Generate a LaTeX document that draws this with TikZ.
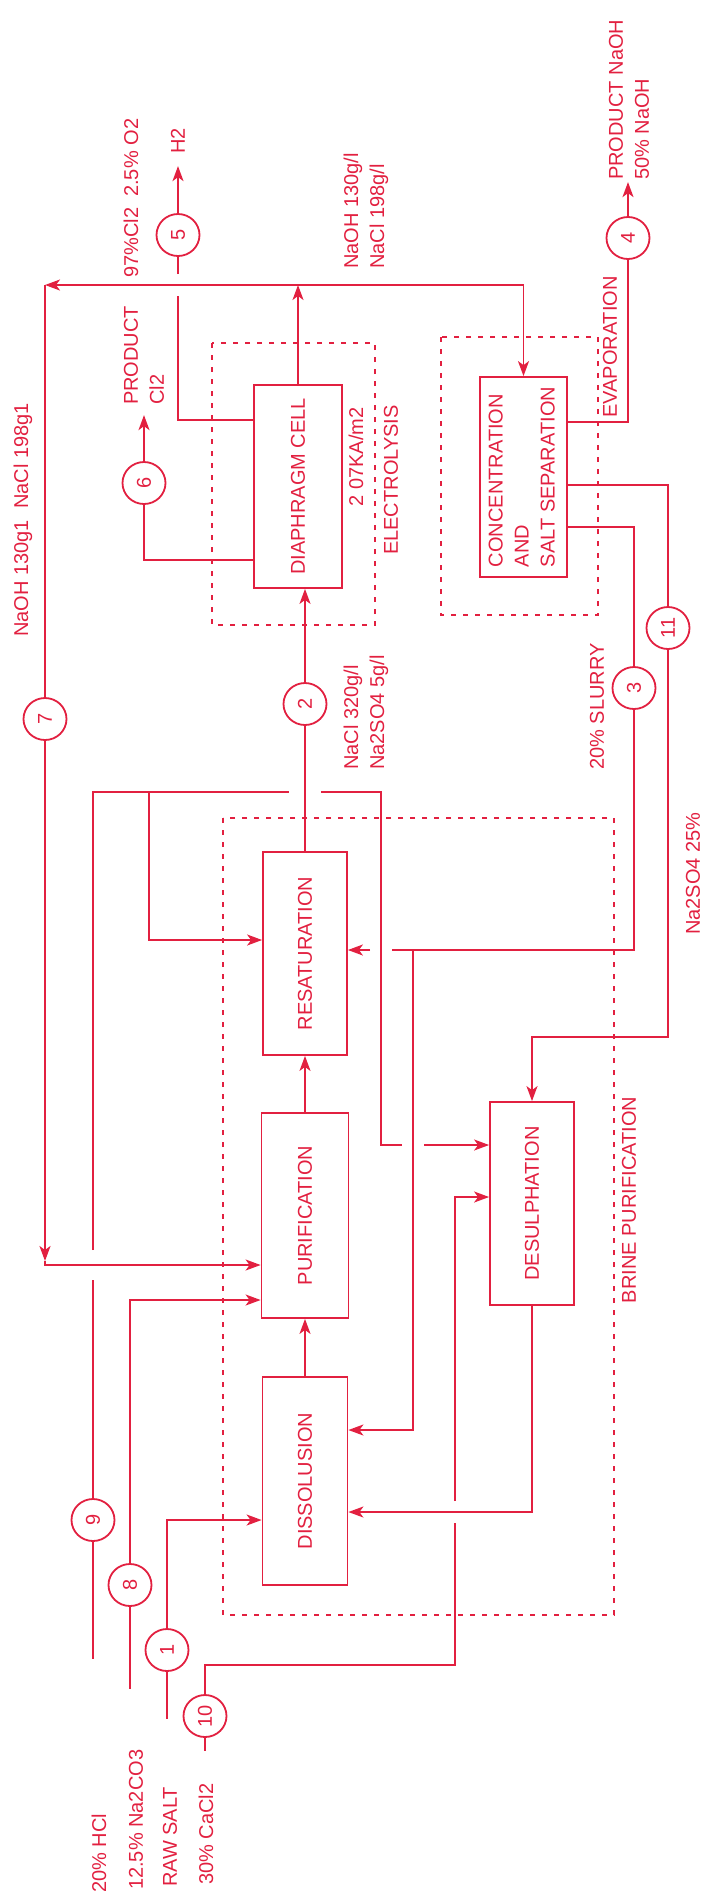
\documentclass[tikz,border=0pt]{standalone}
\usepackage{fontspec}
\setmainfont{Liberation Sans}
\usepackage{tikz}
\usetikzlibrary{arrows.meta,positioning,shapes.geometric}
\definecolor{flowred}{RGB}{226,32,64}
\newcommand{\diagfont}{\fontsize{20}{26}\selectfont}

\tikzset{
  flow/.style={draw=flowred,line width=1.8pt},
  flowarrow/.style={flow,-{Stealth[length=15pt,width=11pt,inset=4pt]}},
  unitbox/.style={draw=flowred,line width=1.8pt,inner sep=1pt,text=flowred,font=\diagfont},
  streamno/.style={ellipse,draw=flowred,line width=1.8pt,minimum width=43pt,minimum height=42pt,
    inner sep=0pt,text=flowred,font=\diagfont},
  regionbox/.style={draw=flowred,line width=1.8pt,dash pattern=on 5pt off 7pt},
  flowlabel/.style={rotate=90,text=flowred,font=\diagfont,align=left,inner sep=0pt},
}

\begin{document}
\begin{tikzpicture}[x=1pt,y=-1pt]
  \useasboundingbox (0,0) rectangle (712,1899);

  % process units
  \node[unitbox,minimum width=88pt,minimum height=203pt] (cell) at (298,486.5) {\rotatebox{90}{DIAPHRAGM CELL}};
  \node[unitbox,minimum width=87pt,minimum height=200pt] (conc) at (523.5,477)
    {\rotatebox{90}{\begin{tabular}{@{}l@{}}CONCENTRATION\\AND\\SALT SEPARATION\end{tabular}}};
  \node[unitbox,minimum width=84pt,minimum height=203pt] (resat) at (305,953.5) {\rotatebox{90}{RESATURATION}};
  \node[unitbox,minimum width=87pt,minimum height=205pt] (purif) at (305,1215.5) {\rotatebox{90}{PURIFICATION}};
  \node[unitbox,minimum width=84pt,minimum height=203pt] (desul) at (532,1203.5) {\rotatebox{90}{DESULPHATION}};
  \node[unitbox,minimum width=85pt,minimum height=208pt] (dissol) at (305,1481) {\rotatebox{90}{DISSOLUSION}};

  % stream numbers
  \node[streamno] (c5) at (178,235) {\rotatebox{90}{5}};
  \node[streamno] (c6) at (144,483) {\rotatebox{90}{6}};
  \node[streamno] (c4) at (628,238) {\rotatebox{90}{4}};
  \node[streamno] (c7) at (45,719) {\rotatebox{90}{7}};
  \node[streamno] (c2) at (305,704) {\rotatebox{90}{2}};
  \node[streamno] (c3) at (634,688) {\rotatebox{90}{3}};
  \node[streamno] (c11) at (668,628) {\rotatebox{90}{11}};
  \node[streamno] (c9) at (93,1520) {\rotatebox{90}{9}};
  \node[streamno] (c8) at (130,1585) {\rotatebox{90}{8}};
  \node[streamno] (c1) at (167,1650) {\rotatebox{90}{1}};
  \node[streamno] (c10) at (205,1716) {\rotatebox{90}{10}};

  % dashed sections
  \draw[regionbox] (212,343) rectangle (375,625);
  \draw[regionbox] (441,337) rectangle (598,615);
  \draw[regionbox] (223,818) rectangle (614,1615);
  \node[flowlabel] (lblKA) at (356,457) {2 07KA/m2};
  \node[flowlabel] (lblEl) at (391,480) {ELECTROLYSIS};
  \node[flowlabel] (lblBP) at (629,1200) {BRINE PURIFICATION};

  % cell liquor header and recycle 7
  \coordinate (tl) at (45,285);
  \coordinate (tr) at (conc.north |- tl);
  \draw[flowarrow] (tr) -- (tl);
  \draw[flowarrow] (cell.north) -- (cell.north |- tl);
  \draw[flowarrow] (tr) -- (conc.north);
  \draw[flow] (tl) -- (c7.north);
  \coordinate (k7) at (45,1265);
  \draw[flowarrow] (c7.south) -- ([yshift=4pt]k7);
  \draw[flowarrow] ([yshift=4pt]k7) -- (k7) -- (purif.west |- k7);
  \node[flowlabel,anchor=west] (lbl7) at (23,637) {NaOH 130g1\ \ NaCl 198g1};
  \node[flowlabel,anchor=west] (lblLiq) at (366,269) {NaOH 130g/l\\NaCl 198g/l};

  % gases 5 and 6
  \coordinate (x5) at (c5 |- tl);
  \draw[flow] ([yshift=66.5pt]cell.west) -| ([yshift=-11pt]x5);
  \draw[flow] ([yshift=11pt]x5) -- (c5.south);
  \draw[flowarrow] (c5.north) -- ++(0,-47);
  \node[flowlabel,anchor=west] (lblH2) at (178,154) {H2};
  \draw[flow] ([yshift=-73.5pt]cell.west) -| (c6.south);
  \draw[flowarrow] (c6.north) -- ++(0,-46);
  \node[flowlabel,anchor=west] (lblCl) at (144,405) {PRODUCT\\Cl2};
  \node[flowlabel,anchor=west] (lblGas) at (131,278) {97\%Cl2\ \ 2.5\% O2};

  % product NaOH 4
  \draw[flow] ([yshift=55pt]conc.east) -| (c4.south);
  \draw[flowarrow] (c4.north) -- ++(0,-34);
  \node[flowlabel,anchor=west] (lbl4) at (629,180) {PRODUCT NaOH\\50\% NaOH};
  \node[flowlabel,anchor=west] (lblEv) at (610,418) {EVAPORATION};

  % brine 2 to cell
  \draw[flow] (resat.north) -- (c2.south);
  \draw[flowarrow] (c2.north) -- (c2.north |- cell.south);
  \node[flowlabel,anchor=west] (lbl2) at (366,770) {NaCl 320g/l\\Na2SO4 5g/l};

  % HCl 9
  \coordinate (x9) at (c9 |- k7);
  \coordinate (h9) at (93,792);
  \coordinate (b9) at (149,792);
  \coordinate (k9) at (381,792);
  \coordinate (x2) at (c2 |- h9);
  \coordinate (d9) at ([yshift=58.5pt]desul.west);
  \coordinate (s3) at (634,950);
  \coordinate (s3b) at (413,950);
  \coordinate (xs) at (s3b |- d9);
  \coordinate (xk) at (k9 |- s3);
  \draw[flow] (c9.north) -- ([yshift=-15pt]x9);
  \draw[flow] ([yshift=15pt]x9) -- (h9) -- ([xshift=-16pt]x2);
  \draw[flow] ([xshift=16pt]x2) -- (k9) |- ([xshift=-11pt]xs);
  \draw[flowarrow] ([xshift=11pt]xs) -- (d9);
  \draw[flowarrow] (b9) |- ([yshift=13.5pt]resat.west);
  \draw[flow] (c9.south) -- ++(0,117);

  % slurry 3 and sulphate 11
  \draw[flow] ([yshift=-50pt]conc.east) -| (c3.north);
  \draw[flow] (c3.south) -- (s3) -- ([xshift=11pt]xk);
  \draw[flowarrow] ([xshift=-11pt]xk) -- ([yshift=3.5pt]resat.east);
  \draw[flowarrow] (s3b) |- ([yshift=51pt]dissol.east);
  \node[flowlabel,anchor=west] (lbl3) at (597,770) {20\% SLURRY};
  \draw[flow] ([yshift=-8pt]conc.east) -| (c11.north);
  \coordinate (n11) at (668,1037);
  \draw[flowarrow] (c11.south) -- (n11) -| (desul.north);
  \node[flowlabel,anchor=west] (lbl11) at (693,935) {Na2SO4 25\%};

  % feeds 8, 1, 10
  \draw[flowarrow] (c8.north) |- ([yshift=-84.5pt]purif.west);
  \draw[flow] (c8.south) -- ++(0,82);
  \draw[flowarrow] (c1.north) |- ([yshift=-39pt]dissol.west);
  \draw[flow] (c1.south) -- ++(0,47);
  \coordinate (k10) at (455,1665);
  \coordinate (x10) at (455,1512);
  \draw[flow] (c10.north) |- (k10) -- ([yshift=-11pt]x10);
  \draw[flowarrow] ([yshift=11pt]x10) |- ([yshift=6.5pt]desul.west);
  \draw[flow] (c10.south) -- ++(0,13);

  % internal brine loops
  \draw[flowarrow] (dissol.north) -- (purif.south);
  \draw[flowarrow] (purif.north) -- (resat.south);
  \draw[flowarrow] (desul.south) |- ([yshift=-31pt]dissol.east);

  % feed labels
  \node[flowlabel,anchor=west] (lblHCl) at (99,1893) {20\% HCl};
  \node[flowlabel,anchor=west] (lblSoda) at (136,1890) {12.5\% Na2CO3};
  \node[flowlabel,anchor=west] (lblSalt) at (170,1887) {RAW SALT};
  \node[flowlabel,anchor=west] (lblCa) at (206,1885) {30\% CaCl2};
\end{tikzpicture}
\end{document}
